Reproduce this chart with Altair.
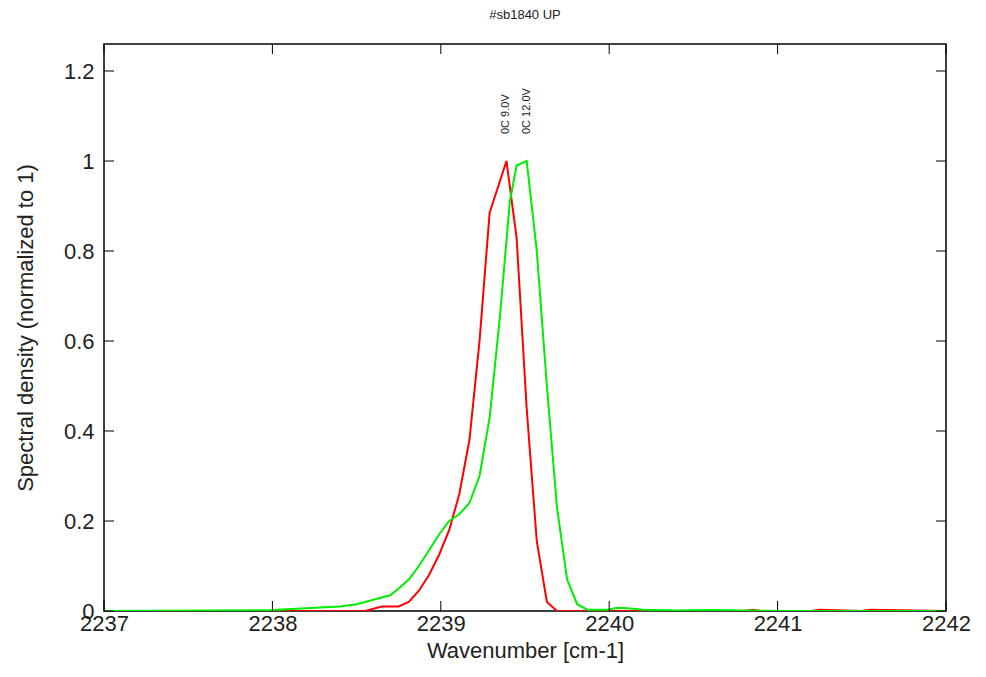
import altair as alt
import pandas as pd

# spectra
red_x = [2237.0, 2238.55, 2238.65, 2238.75, 2238.81, 2238.87, 2238.93, 2238.99, 2239.05,
         2239.11, 2239.17, 2239.23, 2239.29, 2239.39, 2239.45, 2239.51, 2239.57,
         2239.63, 2239.69, 2240.8, 2240.85, 2240.9, 2241.2, 2241.25, 2241.5, 2241.55, 2242.0]
red_y = [0.0, 0.0, 0.01, 0.01, 0.02, 0.045, 0.08, 0.125, 0.18,
         0.26, 0.38, 0.6, 0.885, 1.0, 0.83, 0.45, 0.155,
         0.02, 0.0, 0.0, 0.003, 0.0, 0.0, 0.003, 0.0, 0.003, 0.0]

green_x = [2237.0, 2238.0, 2238.2, 2238.4, 2238.5, 2238.6, 2238.7, 2238.75, 2238.81,
           2238.87, 2238.93, 2238.99, 2239.05, 2239.11, 2239.17, 2239.23, 2239.29,
           2239.35, 2239.41, 2239.45, 2239.51, 2239.57, 2239.63, 2239.69, 2239.75,
           2239.81, 2239.87, 2239.99, 2240.05, 2240.11, 2240.2, 2240.4, 2240.6,
           2241.0, 2242.0]
green_y = [0.0, 0.002, 0.006, 0.01, 0.015, 0.025, 0.035, 0.05, 0.07,
           0.1, 0.135, 0.17, 0.2, 0.215, 0.24, 0.3, 0.43,
           0.65, 0.91, 0.99, 1.0, 0.8, 0.5, 0.23, 0.07,
           0.015, 0.003, 0.003, 0.007, 0.006, 0.003, 0.001, 0.002,
           0.0, 0.0]

labels = ["0C 9.0V", "0C 12.0V"]
label_x = [2239.39, 2239.51]
label_colors = ["#ff0000", "#00ee00"]

x_ticks = [2237, 2238, 2239, 2240, 2241, 2242]
y_ticks = [0, 0.2, 0.4, 0.6, 0.8, 1.0, 1.2]

df = pd.concat([
    pd.DataFrame({"x": red_x, "y": red_y, "s": labels[0]}),
    pd.DataFrame({"x": green_x, "y": green_y, "s": labels[1]}),
])

xs = alt.Scale(domain=[2237, 2242], nice=False)
ys = alt.Scale(domain=[0, 1.26], nice=False)
W, H = 842, 567

lines = alt.Chart(df).mark_line(strokeWidth=2, clip=True).encode(
    x=alt.X("x:Q", scale=xs, title="Wavenumber [cm-1]",
            axis=alt.Axis(values=x_ticks, format="d", grid=False, ticks=False,
                          labelFontSize=22, titleFontSize=22, labelPadding=2,
                          titlePadding=6, labelColor="#222", titleColor="#222",
                          titleFontWeight="normal", labelFlush=False, domain=False)),
    y=alt.Y("y:Q", scale=ys, title="Spectral density (normalized to 1)",
            axis=alt.Axis(values=y_ticks, grid=False, ticks=False,
                          labelExpr="datum.value == 1 ? '1' : datum.value == 0 ? '0' : format(datum.value, '.1f')",
                          labelFontSize=22, titleFontSize=22, labelPadding=10,
                          titlePadding=26, labelColor="#222", titleColor="#222",
                          titleFontWeight="normal", labelFlush=False, domain=False)),
    color=alt.Color("s:N", scale=alt.Scale(domain=labels, range=label_colors), legend=None),
)

tick_len = 10
xt = pd.DataFrame({"v": x_ticks})
yt = pd.DataFrame({"v": y_ticks})
x_bot = alt.Chart(xt).mark_rule(color="black").encode(
    x=alt.X("v:Q", scale=xs), y=alt.value(H), y2=alt.value(H - tick_len))
x_top = alt.Chart(xt).mark_rule(color="black").encode(
    x=alt.X("v:Q", scale=xs), y=alt.value(0), y2=alt.value(tick_len))
y_left = alt.Chart(yt).mark_rule(color="black").encode(
    y=alt.Y("v:Q", scale=ys), x=alt.value(0), x2=alt.value(tick_len))
y_right = alt.Chart(yt).mark_rule(color="black").encode(
    y=alt.Y("v:Q", scale=ys), x=alt.value(W), x2=alt.value(W - tick_len))

lab = alt.Chart(pd.DataFrame({"x": label_x, "t": labels})).mark_text(
    angle=270, align="left", baseline="middle", fontSize=11, color="#222"
).encode(x=alt.X("x:Q", scale=xs), y=alt.value(H - 1.06 * H / 1.26), text="t:N")

chart = alt.layer(lines, x_bot, x_top, y_left, y_right, lab).properties(
    width=W, height=H,
    title=alt.TitleParams("#sb1840 UP", fontSize=13, fontWeight="normal", color="#222", offset=22),
    autosize=alt.AutoSizeParams(type="none"),
    padding={"left": 96, "top": 36, "right": 32, "bottom": 58},
).configure(font="Liberation Sans").configure_view(stroke="black", strokeWidth=1.5)

chart.save("out.html", embed_options={"renderer": "svg", "actions": False})
